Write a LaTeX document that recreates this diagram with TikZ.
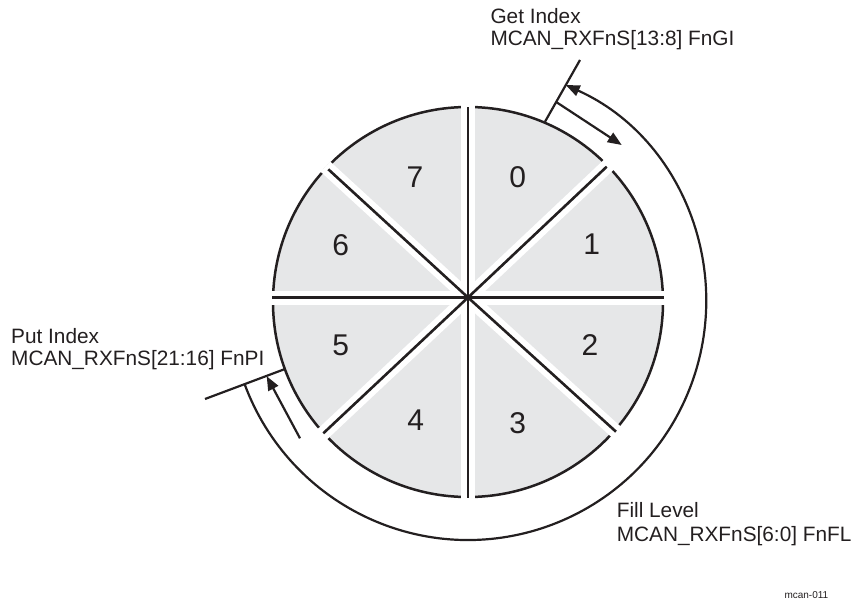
\documentclass[tikz,border=0pt]{standalone}
\usepackage{fontspec}
\setmainfont{Liberation Sans}
\usetikzlibrary{arrows.meta}
\definecolor{ink}{RGB}{35,31,32}
\definecolor{sector}{RGB}{230,231,232}
\begin{document}
\begin{tikzpicture}[x=1pt,y=-1pt,
  lbl/.style={inner sep=0pt, anchor=base west, font=\fontsize{20.8}{24}\selectfont, text=ink},
  digit/.style={inner sep=0pt, font=\fontsize{30}{36}\selectfont, text=ink},
  halo/.style={white, line width=14pt, shorten >=-4pt},
  divider/.style={ink, line width=2.6pt},
  outline/.style={ink, line width=2.5pt},
  marker/.style={ink, line width=2.2pt},
  arr/.style={ink, line width=2.2pt, -{Triangle[length=14pt,width=11pt]}},
  band/.style={ink, line width=2.2pt},
]
\useasboundingbox (0,0) rectangle (860,605);
\coordinate (c) at (468,302);
\coordinate (o) at (468,297.5);
% divider end points
\coordinate (eu) at (468,107);
\coordinate (ed) at (468,497.5);
\coordinate (el) at (272,297.5);
\coordinate (er) at (663.5,297.5);
\coordinate (eur) at (606.7,166.7);
\coordinate (eul) at (328.3,169.3);
\coordinate (ell) at (323.3,433.3);
\coordinate (elr) at (616,431.7);
% pie
\fill[sector] (c) circle[radius=195];
\draw[outline] (c) circle[radius=195];
\foreach \e in {eu,ed,el,er,eur,eul,ell,elr} \draw[halo] (o) -- (\e);
\foreach \e in {eu,ed,el,er,eur,eul,ell,elr} \draw[divider] (o) -- (\e);
% sector numbers
\node[digit] (s0) at (517.7,177.5) {0};
\node[digit] (s1) at (591.7,244) {1};
\node[digit] (s2) at (590,345) {2};
\node[digit] (s3) at (517.7,423.3) {3};
\node[digit] (s4) at (415.7,420) {4};
\node[digit] (s5) at (340.7,345) {5};
\node[digit] (s6) at (340.7,245) {6};
\node[digit] (s7) at (415,177.5) {7};
% index markers
\coordinate (gi1) at (545,121.7);
\coordinate (gi2) at (580,60);
\draw[marker] (gi1) -- (gi2);
\coordinate (pi1) at (285,369);
\coordinate (pi2) at (205,399);
\draw[marker] (pi1) -- (pi2);
% fill level band
\draw[band,{Triangle[length=14pt,width=11pt]}-] ([shift={(-65.75:238)}]c) arc[start angle=-65.75,end angle=159.8,radius=238];
% movement arrows
\coordinate (ga1) at (556.2,102);
\coordinate (ga2) at (621.7,145);
\draw[arr] (ga1) -- (ga2);
\coordinate (pa1) at (300,438.3);
\coordinate (pa2) at (266.7,376.2);
\draw[arr] (pa1) -- (pa2);
% labels
\node[lbl] (gl) at (490.3,23.3) {Get Index};
\node[lbl] (gr) at (490.3,45.7) {MCAN\_RXFnS[13:8] FnGI};
\node[lbl] (pl) at (11,343.3) {Put Index};
\node[lbl] (pr) at (11,365) {MCAN\_RXFnS[21:16] FnPI};
\node[lbl] (fl) at (616.6,517.7) {Fill Level};
\node[lbl] (fr) at (616.6,541) {MCAN\_RXFnS[6:0] FnFL};
\node[inner sep=0pt, anchor=base west, font=\fontsize{10}{12}\selectfont, text=ink] (tag) at (784.3,598.3) {mcan-011};
\end{tikzpicture}
\end{document}
